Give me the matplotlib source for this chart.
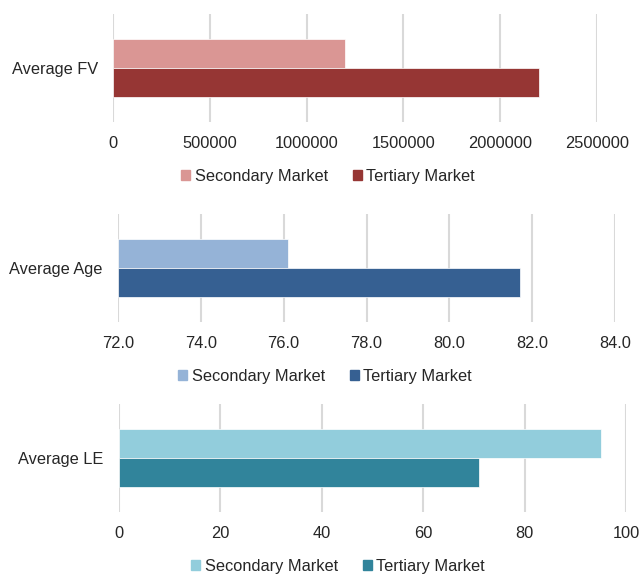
import numpy as np
import matplotlib
matplotlib.use('Agg')
import matplotlib.pyplot as plt
import matplotlib.patches as mpatches

plt.rcParams['font.family'] = ['Liberation Sans', 'DejaVu Sans']

# data
series = ['Secondary Market', 'Tertiary Market']
fv_vals = [1200000, 2200000]
age_vals = [76.1, 81.7]
le_vals = [95.0, 71.0]
fv_ticks = [0, 500000, 1000000, 1500000, 2000000, 2500000]
age_ticks = [72.0, 74.0, 76.0, 78.0, 80.0, 82.0, 84.0]
le_ticks = [0, 20, 40, 60, 80, 100]

text_col = '#262626'
grid_col = '#D9D9D9'
fs = 11.8

panels = [
    # label, values, ticks, fmt, colors, axes rect, legend centre
    ('Average FV', fv_vals, fv_ticks, '{:.0f}', ['#DA9694', '#963634'],
     [113/641, 1-122/576, (597-113)/641, 108/576], (328/641, 1-176/576)),
    ('Average Age', age_vals, age_ticks, '{:.1f}', ['#95B3D7', '#366092'],
     [118/641, 1-322/576, (615-118)/641, 108/576], (325/641, 1-376/576)),
    ('Average LE', le_vals, le_ticks, '{:.0f}', ['#92CDDC', '#31849B'],
     [119/641, 1-512/576, (626-119)/641, 108/576], (338/641, 1-566/576)),
]

fig = plt.figure(figsize=(6.41, 5.76), dpi=100)

for label, vals, ticks, fmt, cols, rect, leg_xy in panels:
    ax = fig.add_axes(rect)
    h = 0.264
    lo = ticks[0]
    # secondary on top, tertiary below
    ax.barh([h/2], [vals[0] - lo], left=lo, height=h, color=cols[0],
            edgecolor='white', linewidth=0.5, zorder=3)
    ax.barh([-h/2], [vals[1] - lo], left=lo, height=h, color=cols[1],
            edgecolor='white', linewidth=0.5, zorder=3)
    ax.set_ylim(-0.5, 0.5)
    ax.set_xlim(ticks[0], ticks[-1])
    ax.set_xticks(ticks)
    ax.set_xticklabels([fmt.format(t) for t in ticks])
    ax.set_yticks([0])
    ax.set_yticklabels([label])
    ax.grid(axis='x', color=grid_col, linewidth=1.5, zorder=0)
    for s in ax.spines.values():
        s.set_visible(False)
    ax.tick_params(axis='both', length=0, labelsize=fs, colors=text_col)
    ax.tick_params(axis='x', pad=10)
    ax.tick_params(axis='y', pad=11)
    handles = [mpatches.Patch(color=c, label=s) for c, s in zip(cols, series)]
    fig.legend(handles=handles, loc='center', bbox_to_anchor=leg_xy, ncol=2,
               frameon=False, fontsize=fs, handlelength=0.55, handleheight=0.55,
               handletextpad=0.3, columnspacing=1.5, labelcolor=text_col)

fig.savefig('out.png', dpi=100)
